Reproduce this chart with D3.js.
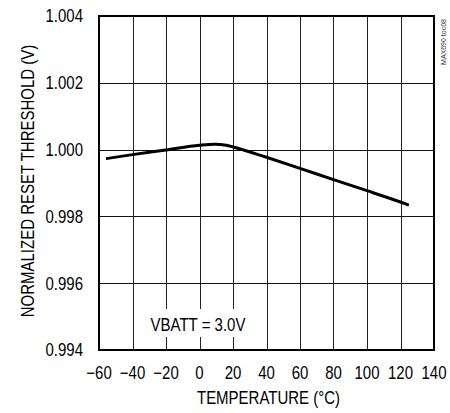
<!DOCTYPE html>
<html>
<head>
<meta charset="utf-8">
<script src="https://cdn.jsdelivr.net/npm/d3@7"></script>
<style>
  html, body { margin: 0; padding: 0; background: #fff; }
  svg { display: block; font-family: "Liberation Sans", Arial, sans-serif; }
</style>
</head>
<body>
<svg id="chart" width="450" height="413"></svg>
<script>
// Data
const temps = [-55.8, -40, -20, 0, 9, 16, 20, 40, 60, 80, 100, 120, 125];
const threshold = [0.99973, 0.99985, 0.99999, 1.00013, 1.00016, 1.00013, 1.00008, 0.99977, 0.99944, 0.9991, 0.99877, 0.99843, 0.99834];
const xTicks = [-60, -40, -20, 0, 20, 40, 60, 80, 100, 120, 140];
const yTicks = [0.994, 0.996, 0.998, 1.000, 1.002, 1.004];
const xTitle = "TEMPERATURE (°C)";
const yTitle = "NORMALIZED RESET THRESHOLD (V)";
const note = "VBATT = 3.0V";
const mark = "MAX690 toc08";

const svg = d3.select("#chart");
const L = 99, R = 434, T = 16, B = 350;
const x = d3.scaleLinear().domain([-60, 140]).range([L, R]);
const y = d3.scaleLinear().domain([0.994, 1.004]).range([B, T]);
const FS = 15, SY = 1.2;

function label(parent, tx, ty, txt, anchor, rot) {
  const gg = parent.append("g")
    .attr("transform", `translate(${tx},${ty})` + (rot ? ` rotate(${rot})` : "") + ` scale(1,${SY})`);
  gg.append("text").attr("x", 0).attr("y", 0).attr("text-anchor", anchor)
    .attr("font-size", FS).attr("fill", "#000").text(txt);
  return gg;
}

// Grid
const g = svg.append("g");
g.selectAll("line.v").data(xTicks).join("line")
  .attr("x1", d => Math.round(x(d)) + 0.5).attr("x2", d => Math.round(x(d)) + 0.5)
  .attr("y1", T).attr("y2", B)
  .attr("stroke", "#222").attr("stroke-width", 1);
g.selectAll("line.h").data(yTicks).join("line")
  .attr("y1", d => Math.round(y(d)) + 0.5).attr("y2", d => Math.round(y(d)) + 0.5)
  .attr("x1", L).attr("x2", R)
  .attr("stroke", "#111").attr("stroke-width", 1);

// Note with white background
svg.append("rect").attr("x", 147).attr("y", 309).attr("width", 101).attr("height", 28).attr("fill", "#fff");
label(svg, 198, 331, note, "middle");

// Frame
svg.append("rect").attr("x", L).attr("y", T).attr("width", R - L).attr("height", B - T)
  .attr("fill", "none").attr("stroke", "#000").attr("stroke-width", 2);

// Curve
const line = d3.line().x((d, i) => x(temps[i])).y(d => y(d)).curve(d3.curveMonotoneX);
svg.append("path").datum(threshold).attr("d", line)
  .attr("fill", "none").attr("stroke", "#000").attr("stroke-width", 3).attr("stroke-linejoin", "round");

// Tick labels
xTicks.forEach(d => label(svg, x(d), 379, d < 0 ? "\u2212" + Math.abs(d) : String(d), "middle"));
yTicks.forEach(d => label(svg, 83, y(d) + 6.4, d3.format(".3f")(d), "end"));

// Titles
label(svg, (L + R) / 2 + 2, 404, xTitle, "middle");
label(svg, 34, 181, yTitle, "middle", -90);

svg.append("text").attr("transform", `translate(446,42) rotate(-90)`)
  .attr("text-anchor", "middle").attr("font-size", 7).attr("fill", "#333").text(mark);
</script>
</body>
</html>
